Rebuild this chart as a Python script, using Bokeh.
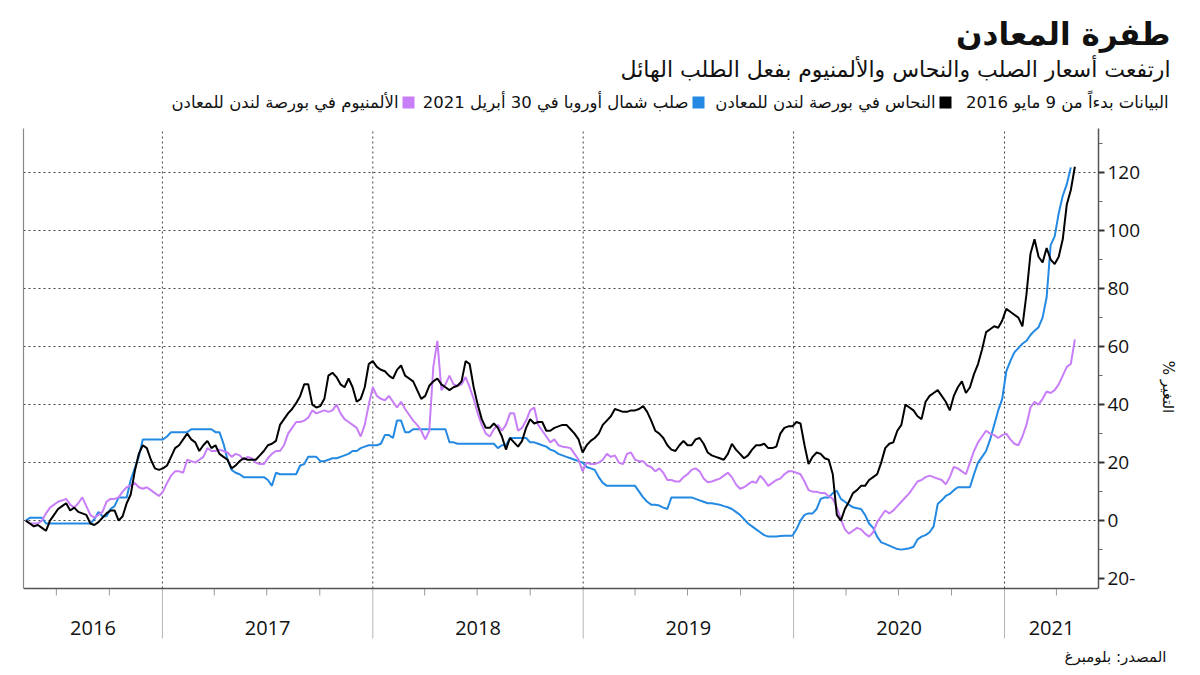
import pandas as pd
from bokeh.plotting import figure
from bokeh.models import Range1d, LinearAxis, FixedTicker, CustomJSTickFormatter
from bokeh.embed import file_html
from bokeh.resources import INLINE
from bokeh.core.properties import value

# ---------------- data ----------------
start_date = "2016-05-09"          # weekly observations
n_weeks = 261
dates = pd.date_range(start=start_date, periods=n_weeks, freq="7D")

copper = [
    0, -1, -2, -1.5, -2.5, -3.5, 0, 2, 4, 5,
    6, 3.5, 4.5, 3, 2.5, 2, -1, -1.5, -0.5, 1,
    2.5, 3.5, 3.5, 0, 1.5, 6, 9, 17, 23, 26,
    25, 21, 18, 17.5, 18, 19, 22, 25, 26, 28,
    30, 28, 27, 24, 26, 27.5, 25, 26, 23, 22,
    21, 18, 19, 20.5, 21.5, 21, 21, 21, 22.5, 24,
    26, 26.5, 27.5, 33, 35, 37, 38.5, 40.5, 43, 47,
    47, 40, 39, 39.5, 42, 50, 51, 49.5, 47, 46,
    49, 46, 41, 42, 46, 54, 55, 53, 52, 51.5,
    50, 49, 52, 53.5, 50, 49, 48, 45, 42, 43,
    46.5, 48, 49, 47, 46, 45, 46, 46.5, 48, 55,
    54, 46, 40, 35, 32, 32, 33.5, 32, 29, 24.5,
    28.5, 27, 25.5, 27.5, 32, 35, 33.5, 34, 34, 31,
    31, 32, 32.5, 33, 33, 31.5, 30, 28, 23.5, 26,
    27.5, 28.5, 30, 33, 34.5, 36, 38.5, 38, 37.5, 37.5,
    38, 38, 38.5, 39.5, 37.5, 34.5, 31, 30, 28.5, 26,
    24.5, 24, 26, 27.5, 26, 26, 28, 28.5, 26.5, 23.5,
    22.5, 22, 21.5, 21, 23, 26.5, 24.5, 23, 21.5, 22.5,
    24.5, 26, 26, 26.5, 25, 25, 25.5, 30, 32, 32.5,
    32.5, 34, 33.5, 26, 19.5, 22, 23.5, 23, 21.5, 21,
    16, 2, 0, 4, 6.5, 9.5, 10.5, 12, 12, 14,
    15, 16, 20, 25, 26.5, 27, 31, 33, 40, 39,
    38, 36, 35, 41, 43, 44, 45, 43, 41, 38,
    43, 46, 48, 44, 46, 50.5, 54, 59, 65, 66,
    67, 66.5, 69, 73, 72, 71, 70, 67, 78, 92,
    97, 91, 89, 94, 90, 88.5, 91, 97, 109, 114,
    122,
]

aluminum = [
    0, -1, -1, -1, 0, 2.5, 4.5, 5.5, 6.5, 7,
    7.5, 5.5, 4.5, 6, 8, 5, 2, 1, 2, 3,
    6.5, 7.5, 7.5, 8, 10, 11.5, 12, 13, 11.5, 11,
    11.5, 10.5, 9.5, 8.5, 10, 13, 15.5, 17, 17, 16.5,
    21, 20.5, 20, 21, 22, 25, 24, 24, 24.5, 24,
    23.5, 22, 23, 22.5, 21, 22, 21.5, 20, 19.5, 19.5,
    21.5, 23, 24, 24, 26, 30, 32, 34, 34, 34.5,
    35.5, 38, 37, 37.5, 38, 37.5, 38, 40, 37, 35,
    34, 33, 32, 29, 33, 40, 46, 43, 42, 41.5,
    43, 41, 39, 41, 38.5, 36.5, 34.5, 33, 31, 28,
    31, 53, 62, 45, 47, 50, 47, 46.5, 47, 49.5,
    46, 42, 37, 33, 30, 29, 31.5, 33, 31, 33,
    37, 37, 31, 32, 34.5, 38, 39, 33, 31, 29,
    27, 28, 26, 25.5, 25.3, 25, 23, 21, 17, 20,
    19.5, 19.5, 20, 21, 23, 22, 22.5, 20, 19.5, 23,
    23.5, 21, 20.5, 20.5, 19, 18.5, 17, 18, 16.5, 14,
    14, 13.5, 13.5, 15, 16, 17.5, 18, 17, 14.5, 13.2,
    13.5, 14, 14.5, 15.5, 16.5, 15, 12.5, 11, 11.5, 12.5,
    13.5, 13, 15.5, 14, 12, 13, 14, 14.5, 16, 17,
    17, 16.5, 16, 13.5, 10.5, 10, 10, 9.5, 9.5, 8.5,
    7.5, 4.5, 0.5, -3, -4.5, -3.5, -2.5, -3, -4.5, -5.5,
    -4, -0.5, 1.5, 3.5, 2.5, 3.5, 5, 6.5, 8, 9.5,
    11.5, 13.5, 14, 15, 15.5, 15, 14.5, 14, 12.5, 15,
    18.5, 18, 17, 16, 20, 24, 27, 29, 31, 30,
    29.5, 28.5, 29.5, 30, 28, 26.5, 26, 29, 33, 39,
    41, 40, 42, 44.5, 44, 45, 47, 50, 53, 54,
    62.5,
]

steel = [
    0, 1, 1, 1, 1, -1, -1, -1, -1, -1,
    -1, -1, -1, -1, -1, -1, -1, 0.5, 3, 1.5,
    1.5, 4, 5, 8, 8, 8, 14, 18, 22, 28,
    28, 28, 28, 28, 28, 29, 30.5, 30.5, 30.5, 30.5,
    30.5, 31.5, 31.5, 31.5, 31.5, 31.5, 31.5, 30.5, 30.5, 26.5,
    21, 17.5, 16.5, 16, 15, 15, 15, 15, 15, 15,
    14, 12, 16.5, 16, 16, 16, 16, 16, 19, 19.5,
    22, 22, 22, 20.5, 20.5, 21, 21.5, 21.5, 22, 22.5,
    23, 24, 24, 25, 25.5, 26, 26, 26, 26.5, 29.5,
    29.5, 28.5, 34.5, 34.5, 30.5, 30.5, 31.5, 31.5, 31.5, 31.5,
    31.5, 31.5, 31.5, 31.5, 31.5, 27, 27, 26.5, 26.5, 26.5,
    26.5, 26.5, 26.5, 26.5, 26.5, 26.5, 26.5, 25, 26, 26,
    28.5, 28.5, 28.5, 28.5, 28.5, 27, 27, 26.5, 26, 25.5,
    24.5, 24, 23, 22.5, 22, 21.5, 21, 20.5, 20, 18.5,
    18, 17.5, 15, 13, 12, 12, 12, 12, 12, 12,
    12, 12, 10, 8, 6.5, 5.5, 5.5, 5.2, 4.5, 4,
    8, 8, 8, 8, 8, 8, 7.5, 7, 6.5, 6,
    6, 5.7, 5.5, 5, 4.6, 4, 3, 2, 0.5, -1,
    -2, -3, -4, -5, -5.5, -5.5, -5.5, -5.3, -5.2, -5.2,
    -5.2, -3, 0, 2, 2.5, 2.5, 4, 7.5, 8, 8,
    9.5, 10.3, 7.5, 6.5, 5.5, 4.6, 4.3, 4, 2, -1,
    -2.5, -5.5, -7.5, -8, -8.6, -9.2, -9.8, -10, -9.8, -9.5,
    -9, -6.5, -5.5, -5, -4, -2, 5.7, 7, 8.5, 9.2,
    10.5, 11.5, 11.5, 11.5, 11.5, 16, 20, 22, 24, 28,
    33, 38, 42, 51.5, 55, 58, 59.5, 61, 62, 64,
    65.5, 66.7, 70, 77, 95, 98, 106, 112, 116, 121.8,
    float("nan"),
]

y_ticks = [-20, 0, 20, 40, 60, 80, 100, 120]
y_minor = [-10, 10, 30, 50, 70, 90, 110, 130]
grid_ticks = [0, 20, 40, 60, 80, 100, 120]
year_bounds = ["2017-01-01", "2018-01-01", "2019-01-01", "2020-01-01", "2021-01-01"]
quarter_ticks = ["2016-07-01", "2016-10-01",
                 "2017-04-01", "2017-07-01", "2017-10-01",
                 "2018-04-01", "2018-07-01", "2018-10-01",
                 "2019-04-01", "2019-07-01", "2019-10-01",
                 "2020-04-01", "2020-07-01", "2020-10-01",
                 "2021-04-01"]
year_labels = ["2016", "2017", "2018", "2019", "2020", "2021"]
x_start, x_end = "2016-05-05", "2021-06-13"
y_floor, y_top = -23.4, 135.2

title = "طفرة المعادن"
subtitle = "ارتفعت أسعار الصلب والنحاس والألمنيوم بفعل الطلب الهائل"
note = "البيانات بدءاً من 9 مايو 2016"
name_copper = "النحاس في بورصة لندن للمعادن"
name_steel = "صلب شمال أوروبا في 30 أبريل 2021"
name_alu = "الألمنيوم في بورصة لندن للمعادن"
y_label = "% التغير"
source = "المصدر: بلومبرغ"

c_copper = "#000000"
c_steel = "#2389e2"
c_alu = "#c87ef7"
TXT = "#111111"
GRID = "#444444"


def ms(s):
    return pd.Timestamp(s).value // 10**6


AR = "DejaVu Sans"
NUM = "Open Sans"

W = 1192
HDR_H = 128          # page rows 0..128
MAIN_BOTTOM = 645    # main chart occupies page rows 128..645
AXIS_Y = 588         # page row of the date axis line
SRC_H = 22           # footer with source, rows 645..667
FRAME_L, FRAME_R = 23, 1098
PX_PER_UNIT = (AXIS_Y - HDR_H) / (y_top - y_floor)

t0, t1 = ms(x_start), ms(x_end)


def bare(fig):
    fig.outline_line_color = None
    fig.grid.visible = False
    fig.background_fill_color = "white"
    fig.border_fill_color = "white"
    return fig


# ---------------- header ----------------
hdr = bare(figure(width=W, height=HDR_H, x_range=Range1d(0, W), y_range=Range1d(HDR_H, 0),
                  x_axis_location=None, y_axis_location=None, min_border=0,
                  output_backend="svg", toolbar_location=None))
hdr.text(x=[1170], y=[33], text=[title], text_font=value(AR), text_font_size="31px",
         text_font_style="bold", text_align="right", text_baseline="middle", text_color=TXT)
hdr.text(x=[1170], y=[69], text=[subtitle], text_font=value(AR), text_font_size="22px",
         text_align="right", text_baseline="middle", text_color=TXT)
hdr.text(x=[1168, 935, 688, 398], y=[102] * 4, text=[note, name_copper, name_steel, name_alu],
         text_font=value(AR), text_font_size="16.5px", text_align="right",
         text_baseline="middle", text_color=TXT)
hdr.rect(x=[945, 698, 408], y=[102] * 3, width=12, height=12,
         color=[c_copper, c_steel, c_alu], line_width=0)

# ---------------- main chart ----------------
main_h = MAIN_BOTTOM - HDR_H
y_bottom = y_floor - (MAIN_BOTTOM - AXIS_Y) / PX_PER_UNIT
p = figure(width=W, height=main_h, x_range=Range1d(t0, t1), y_range=Range1d(y_bottom, y_top),
           x_axis_location=None, y_axis_location="right",
           min_border_left=FRAME_L, min_border_right=W - FRAME_R, min_border_top=0, min_border_bottom=0,
           output_backend="svg", toolbar_location=None)
p.outline_line_color = None
p.xgrid.visible = False
p.extra_y_ranges = {"page": Range1d(MAIN_BOTTOM, HDR_H)}

ya = p.yaxis[0]
ya.bounds = (y_floor, y_top)
ya.ticker = FixedTicker(ticks=y_ticks, minor_ticks=y_minor)
ya.formatter = CustomJSTickFormatter(code="return tick < 0 ? Math.abs(tick) + '-' : String(tick);")
ya.major_label_text_font = NUM
ya.major_label_text_font_size = "19px"
ya.major_label_text_color = TXT
ya.major_tick_out = 6
ya.major_tick_in = 0
ya.major_tick_line_width = 2
ya.major_tick_line_color = "#333333"
ya.minor_tick_out = 4
ya.minor_tick_in = 0
ya.minor_tick_line_color = "#666666"
ya.axis_line_color = "#555555"
ya.axis_line_width = 1.5
ya.major_label_standoff = 3
ya.axis_label = y_label
ya.axis_label_text_font = AR
ya.axis_label_text_font_size = "15px"
ya.axis_label_text_font_style = "normal"
ya.axis_label_text_color = TXT
ya.axis_label_standoff = 16

la = LinearAxis(ticker=FixedTicker(ticks=[]), bounds=(y_floor, y_top), major_tick_line_color=None,
                minor_tick_line_color=None, axis_line_color="#888888", axis_line_width=1.2)
p.add_layout(la, "left")

p.ygrid.ticker = FixedTicker(ticks=grid_ticks)
p.ygrid.grid_line_color = GRID
p.ygrid.grid_line_dash = "2 3"

bounds_ms = [ms(d) for d in year_bounds]
q_ms = [ms(d) for d in quarter_ticks]
# vertical dotted year grid (stops at the date axis)
p.segment(x0=bounds_ms, y0=y_floor, x1=bounds_ms, y1=y_top, line_color=GRID, line_dash="2 3", line_width=1)

# series
p.line(dates, steel, color=c_steel, line_width=2)
p.line(dates, aluminum, color=c_alu, line_width=2)
p.line(dates, copper, color=c_copper, line_width=2)

# date axis band (page-row coordinates)
p.segment(x0=bounds_ms, y0=AXIS_Y, x1=bounds_ms, y1=AXIS_Y + 50, y_range_name="page",
          line_color="#b5b5b5", line_width=1)
p.segment(x0=q_ms, y0=AXIS_Y, x1=q_ms, y1=AXIS_Y + 7, y_range_name="page",
          line_color="#9a9a9a", line_width=1)
p.segment(x0=[t0], y0=[AXIS_Y], x1=[t1], y1=[AXIS_Y], y_range_name="page",
          line_color="#555555", line_width=1.6)
edges = [t0] + bounds_ms + [t1]
mids = [(edges[k] + edges[k + 1]) / 2 for k in range(len(year_labels))]
p.text(x=mids, y=[AXIS_Y + 39] * len(mids), text=year_labels, y_range_name="page",
       text_font=value(NUM), text_font_size="20px", text_align="center",
       text_baseline="middle", text_color=TXT)

# ---------------- footer: source ----------------
ftr = bare(figure(width=W, height=SRC_H, x_range=Range1d(0, W), y_range=Range1d(SRC_H, 0),
                  x_axis_location=None, y_axis_location=None, min_border=0,
                  output_backend="svg", toolbar_location=None))
ftr.text(x=[1166], y=[11], text=[source], text_font=value(AR), text_font_size="15px",
         text_align="right", text_baseline="middle", text_color=TXT)

open("out.html", "w").write(file_html([hdr, p, ftr], INLINE))
